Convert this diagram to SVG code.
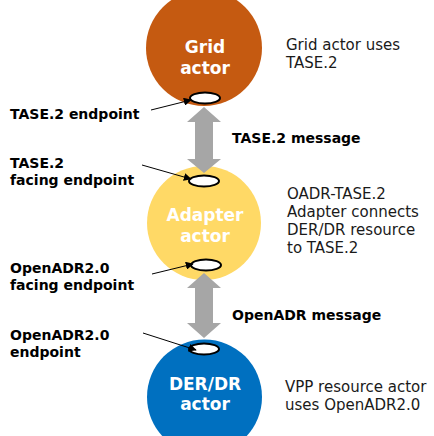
<svg xmlns="http://www.w3.org/2000/svg" width="434" height="436" viewBox="0 0 434 436">
  <style>
    .actor-label { font-family: "DejaVu Sans", "Noto Sans", sans-serif; font-weight: bold; font-size: 17px; fill: #ffffff; text-anchor: middle; }
    .note { font-family: "DejaVu Sans", "Noto Sans", sans-serif; font-size: 15px; fill: #1a1a1a; }
    .label { font-family: "DejaVu Sans", "Noto Sans", sans-serif; font-weight: bold; font-size: 14px; fill: #000000; }
    .endpoint { fill: #ffffff; stroke: #000000; stroke-width: 2; }
    .msg { fill: #a6a6a6; }
    .pointer { stroke: #000000; stroke-width: 1; fill: none; marker-end: url(#tip); }
  </style>
  <defs>
    <marker id="tip" viewBox="0 0 10 10" refX="9" refY="5" markerWidth="8" markerHeight="8" markerUnits="userSpaceOnUse" orient="auto">
      <path d="M0,0 L10,5 L0,10 z" fill="#000000"/>
    </marker>
  </defs>
  <rect width="434" height="436" fill="#ffffff"/>

  <!-- Grid actor -->
  <g id="grid-actor">
    <circle cx="204" cy="48" r="58" fill="#c55a11"/>
    <text class="actor-label" x="205" y="53">Grid</text>
    <text class="actor-label" x="205" y="74">actor</text>
    <ellipse class="endpoint" cx="205" cy="98" rx="15" ry="5.5"/>
  </g>

  <!-- Adapter actor -->
  <g id="adapter-actor">
    <circle cx="204" cy="223" r="57" fill="#ffd966"/>
    <text class="actor-label" x="205" y="221">Adapter</text>
    <text class="actor-label" x="205" y="242">actor</text>
    <ellipse class="endpoint" cx="204" cy="181" rx="15" ry="5.5"/>
    <ellipse class="endpoint" cx="206" cy="265" rx="15" ry="5.5"/>
  </g>

  <!-- DER/DR actor -->
  <g id="der-actor">
    <circle cx="204.5" cy="397" r="57.5" fill="#0070c0"/>
    <text class="actor-label" x="205" y="390">DER/DR</text>
    <text class="actor-label" x="205" y="410">actor</text>
    <ellipse class="endpoint" cx="204" cy="349" rx="15" ry="5.5"/>
  </g>

  <!-- message connectors and endpoint pointers -->
  <g id="connectors">
    <path class="msg" d="M204,107 L221,122 L213,122 L213,159 L221,159 L204,173 L187,159 L195,159 L195,122 L187,122 z"/>
    <path class="msg" d="M204,273 L221,288 L213,288 L213,323 L221,323 L204,338 L187,323 L195,323 L195,288 L187,288 z"/>
    <line class="pointer" x1="151" y1="110" x2="191" y2="100"/>
    <line class="pointer" x1="142" y1="165" x2="191" y2="179"/>
    <line class="pointer" x1="152" y1="274" x2="193" y2="264"/>
    <line class="pointer" x1="143" y1="333" x2="196" y2="350"/>
  </g>

  <!-- endpoint and message labels -->
  <g id="labels">
    <text class="label" x="10" y="119">TASE.2 endpoint</text>
    <text class="label" x="232" y="143">TASE.2 message</text>
    <text class="label" x="10" y="168">TASE.2</text>
    <text class="label" x="10" y="185">facing endpoint</text>
    <text class="label" x="10" y="273">OpenADR2.0</text>
    <text class="label" x="10" y="290">facing endpoint</text>
    <text class="label" x="232" y="320">OpenADR message</text>
    <text class="label" x="10" y="340">OpenADR2.0</text>
    <text class="label" x="10" y="357">endpoint</text>
  </g>

  <!-- actor notes -->
  <g id="notes">
    <text class="note" x="286" y="50">Grid actor uses</text>
    <text class="note" x="286" y="68">TASE.2</text>
    <text class="note" x="287" y="199">OADR-TASE.2</text>
    <text class="note" x="287" y="217">Adapter connects</text>
    <text class="note" x="287" y="235">DER/DR resource</text>
    <text class="note" x="287" y="253">to TASE.2</text>
    <text class="note" x="285" y="392">VPP resource actor</text>
    <text class="note" x="285" y="410">uses OpenADR2.0</text>
  </g>
</svg>
